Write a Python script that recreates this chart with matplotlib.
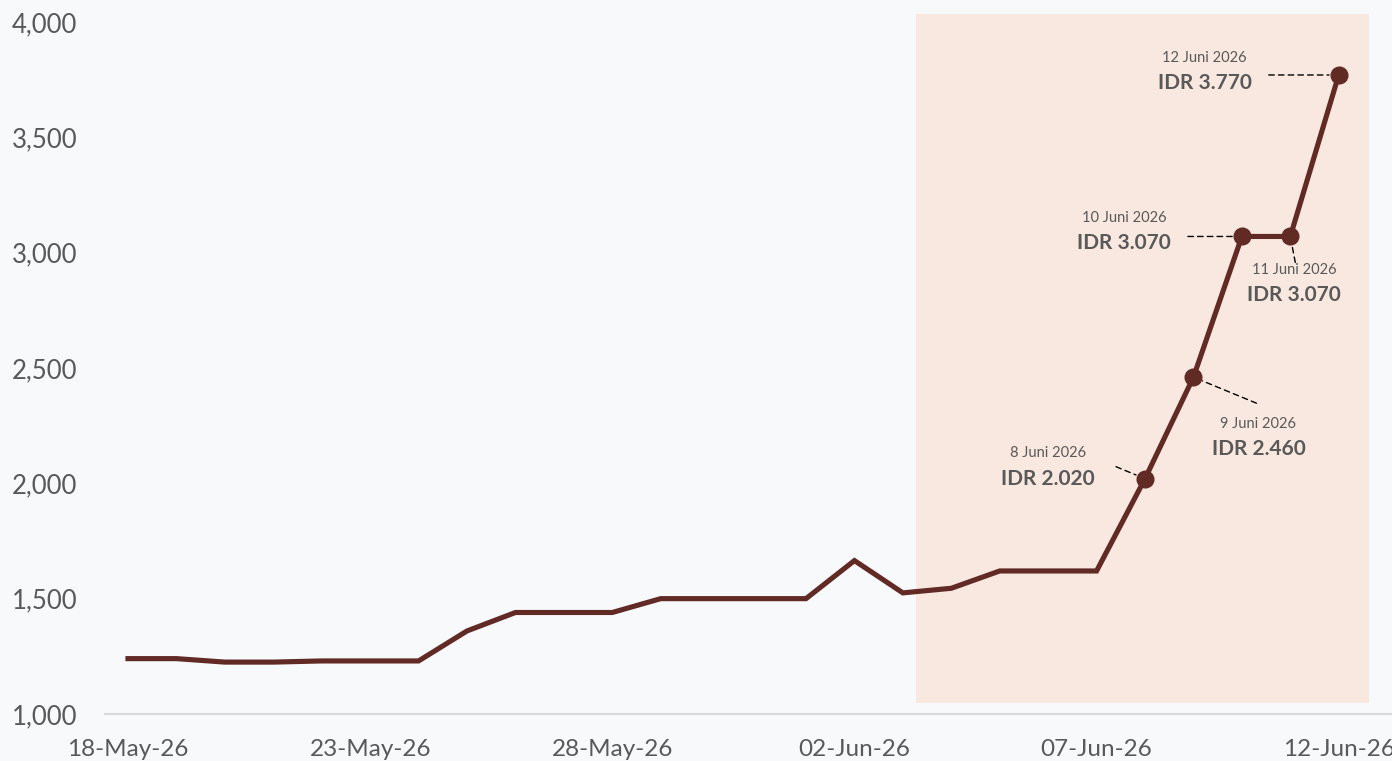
import matplotlib
matplotlib.use("Agg")
import matplotlib.pyplot as plt
import matplotlib.dates as mdates
import pandas as pd
from matplotlib.patches import Rectangle

plt.rcParams["font.family"] = ["Lato", "DejaVu Sans"]

# daily price, 18 May 2026 .. 12 Jun 2026
dates = pd.date_range("2026-05-18", "2026-06-12", freq="D")
prices = [1240, 1240, 1225, 1225, 1230, 1230, 1230, 1360, 1440, 1440,
          1440, 1500, 1500, 1500, 1500, 1665, 1525, 1545, 1620, 1620,
          1620, 2020, 2460, 3070, 3070, 3770]

# highlighted points and their labels
hl_idx = [21, 22, 23, 24, 25]
hl_dates = ["8 Juni 2026", "9 Juni 2026", "10 Juni 2026", "11 Juni 2026", "12 Juni 2026"]
hl_values = ["IDR 2.020", "IDR 2.460", "IDR 3.070", "IDR 3.070", "IDR 3.770"]

# layout of labels in pixel offsets from the point: leader end, text x, date y, value y
hl_layout = [
    ((-29, 12), -97, 26, 0),
    ((63, -26), 65, -47, -72),
    ((-54, 0), -118, 18, -7),
    ((5, -26), 4, -34, -59),
    ((-70, 0), -134, 17, -8),
]

LINE = "#612A25"
GREY = "#595959"
BG = "#F8F9FB"

fig = plt.figure(figsize=(13.92, 7.61), dpi=100, facecolor=BG)
ax = fig.add_axes([105 / 1392, 47 / 761, 1 - 105 / 1392, 714 / 761], facecolor=BG)

x0 = mdates.date2num(dates[0])
ax.set_xlim(x0 - 0.475, x0 + 26.1)
ax.set_ylim(1000, 4095)

# shaded recent window
ax.add_patch(Rectangle((x0 + 16.28, 1048), 25.62 - 16.28, 4034 - 1048,
                       facecolor="#F9E8DF", edgecolor="none", zorder=0))

ax.plot(dates, prices, color=LINE, lw=3.7, solid_joinstyle="miter", zorder=3)
ax.plot(dates[hl_idx], [prices[i] for i in hl_idx], "o", color=LINE,
        ms=12, zorder=4)

for i, d, v, (lead, tx, dy, vy) in zip(hl_idx, hl_dates, hl_values, hl_layout):
    xy = (dates[i], prices[i])
    ax.annotate("", xy=xy, xytext=lead, textcoords="offset pixels",
                arrowprops=dict(arrowstyle="-", color="black", lw=1,
                                linestyle=(0, (4, 3)), shrinkA=0, shrinkB=7),
                zorder=2)
    ax.annotate(d, xy=xy, xytext=(tx, dy), textcoords="offset pixels",
                ha="center", va="center", fontsize=10.5, color=GREY)
    ax.annotate(v, xy=xy, xytext=(tx, vy), textcoords="offset pixels",
                ha="center", va="center", fontsize=15, fontweight="bold",
                color=GREY)

ax.set_yticks([1000, 1500, 2000, 2500, 3000, 3500, 4000])
ax.yaxis.set_major_formatter(matplotlib.ticker.FuncFormatter(lambda v, p: f"{v:,.0f}"))
ax.set_xticks(dates[::5])
ax.xaxis.set_major_formatter(mdates.DateFormatter("%d-%b-%y"))

ax.tick_params(axis="both", length=0, labelsize=17.5, labelcolor=GREY)
ax.tick_params(axis="y", labelsize=18.5, pad=20)
ax.tick_params(axis="x", pad=18)
for s in ["top", "right", "left"]:
    ax.spines[s].set_visible(False)
ax.spines["bottom"].set_color("#D9D9D9")
ax.spines["bottom"].set_linewidth(1.5)

fig.savefig("out.png", dpi=100, facecolor=BG)
